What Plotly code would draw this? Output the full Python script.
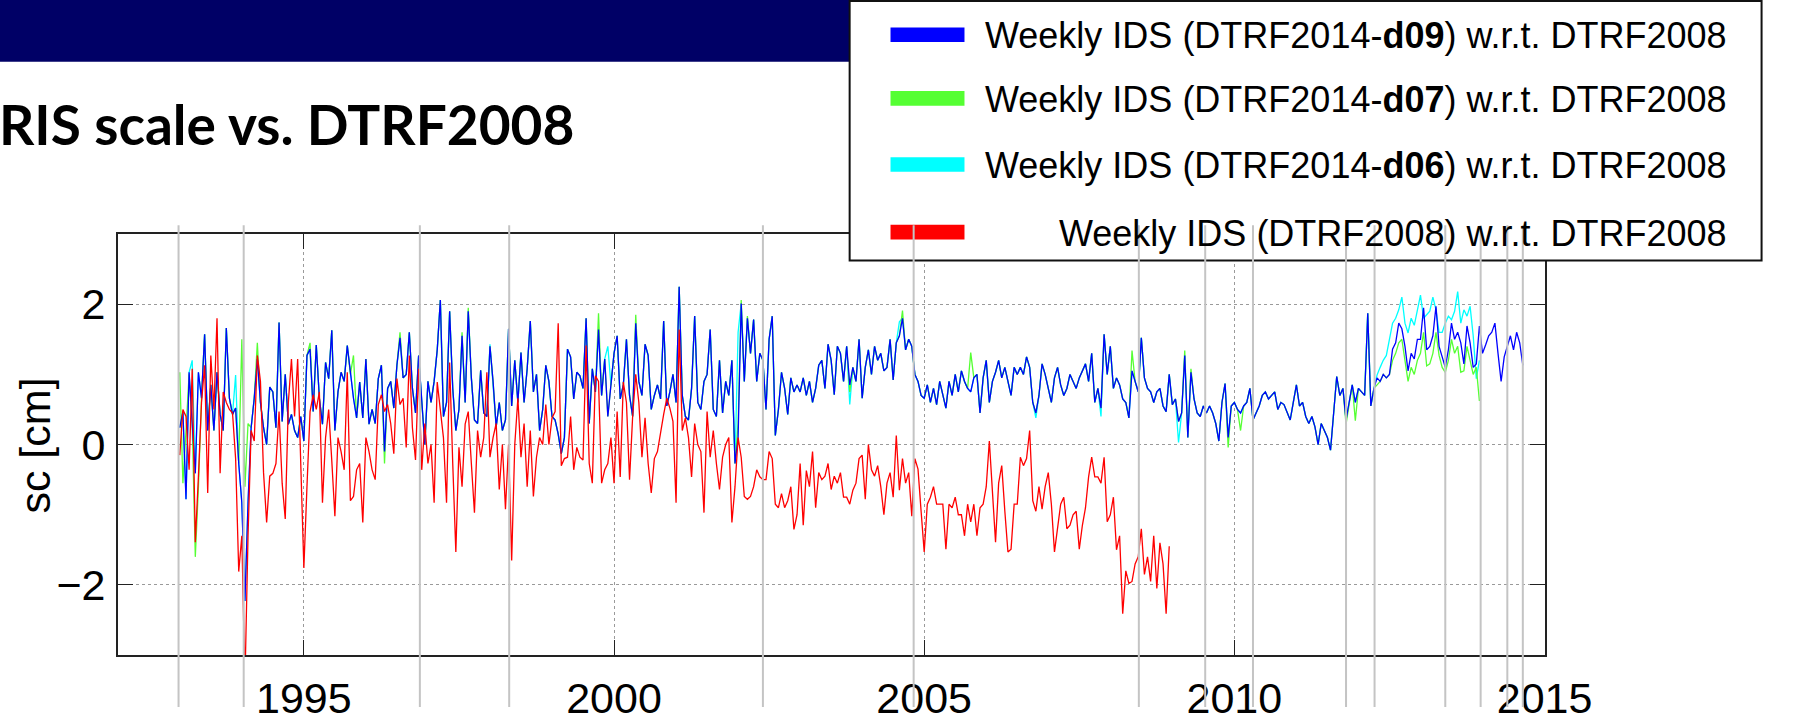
import plotly.graph_objects as go

# ---------------- data ----------------
step_yr = 0.05            # sampling step of the series (years)
blue_start = 1993.0       # Weekly IDS (DTRF2014-d09) w.r.t. DTRF2008
green_start = 1993.0      # Weekly IDS (DTRF2014-d07) w.r.t. DTRF2008
cyan_start = 1993.0       # Weekly IDS (DTRF2014-d06) w.r.t. DTRF2008
red_start = 1993.0        # Weekly IDS (DTRF2008) w.r.t. DTRF2008

blue_sc = [
    0.24, 0.47, -0.78, 1.03, 0.3, -0.41, 1.03, 0.66, 1.57, 0.2, 0.85, 0.2, 1.03, 0.43, 0.2, 1.66, 0.66, 0.43, 0.52, -0.27,
    -0.83, -2.23, -0.83, 0.24, 0.66, 1.22, 0.6, 0.24, 0.0, 0.82, 0.75, 0.24, 1.74, 0.33, 1.0, 0.29, 0.43, 0.2, 0.1, 0.4,
    0.05, 1.27, 1.36, 0.47, 1.42, 0.66, 0.29, 1.17, 0.94, 1.63, 0.2, 0.75, 1.03, 0.9, 1.41, 1.0, 0.66, 0.38, 0.89, 0.38,
    1.22, 0.29, 0.5, 0.3, 0.94, 1.13, -0.1, 0.8, 0.9, 0.52, 1.13, 1.52, 0.95, 1.0, 1.6, 0.8, 0.45, 1.27, 0.6, 0.0,
    0.9, 0.6, 0.9, 1.35, 2.06, 0.4, 0.6, 1.9, 0.8, 0.2, 0.5, 1.55, 0.6, 1.9, 0.95, 0.35, 0.3, 1.06, 0.45, 0.4,
    1.4, 0.9, 0.25, 0.6, 0.2, 0.35, 1.65, 0.55, 1.2, 0.6, 1.31, 0.6, 1.08, 1.76, 0.75, 1.0, 0.2, 0.5, 1.13, 0.9,
    0.4, 0.35, 0.15, -0.13, 0.1, 1.36, 1.25, 0.65, 1.03, 0.98, 0.8, 1.8, 0.3, 1.08, 0.75, 1.64, 0.7, 1.22, 0.4, 0.85,
    1.3, 1.55, 0.65, 0.85, 1.5, 0.7, 0.4, 1.73, 0.9, 0.7, 1.43, 1.27, 0.5, 0.7, 0.85, 0.65, 1.76, 0.55, 0.75, 1.0,
    0.6, 2.25, 0.7, 0.4, 0.35, 0.8, 1.83, 0.6, 0.5, 0.9, 1.0, 1.64, 0.5, 0.4, 1.2, 0.45, 0.9, 0.7, 1.2, -0.27,
    0.1, 2.01, 0.9, 1.8, 1.3, 1.78, 0.9, 1.3, 1.2, 0.5, 1.5, 1.83, 0.13, 0.5, 1.03, 0.8, 0.43, 0.95, 0.75, 0.85,
    0.75, 0.95, 0.7, 0.9, 0.6, 0.8, 1.13, 1.2, 0.8, 1.43, 1.2, 0.71, 1.4, 1.3, 0.9, 1.4, 0.85, 1.1, 0.9, 1.5,
    0.66, 1.1, 1.35, 1.0, 1.4, 1.2, 1.3, 1.05, 1.1, 1.5, 0.92, 1.45, 1.55, 1.8, 1.35, 1.5, 1.4, 1.0, 0.9, 0.7,
    0.66, 0.85, 0.6, 0.8, 0.57, 0.9, 0.7, 0.52, 0.9, 0.7, 1.0, 0.75, 1.05, 0.9, 0.8, 0.75, 0.95, 1.0, 0.45, 0.95,
    1.2, 0.6, 0.9, 1.03, 1.2, 0.95, 1.1, 0.9, 0.7, 1.1, 1.0, 1.1, 1.0, 1.25, 1.1, 0.6, 0.45, 0.7, 1.15, 1.0,
    0.8, 0.6, 0.95, 1.1, 0.85, 0.7, 0.8, 1.0, 0.9, 0.8, 0.95, 1.05, 1.15, 0.9, 1.3, 0.6, 0.8, 0.52, 1.57, 1.0,
    1.4, 0.8, 0.95, 0.85, 0.65, 0.6, 0.38, 1.05, 0.9, 0.75, 1.52, 0.95, 0.8, 0.75, 0.6, 0.75, 0.8, 0.55, 0.47, 1.0,
    0.57, 0.65, 0.33, 0.45, 1.27, 0.1, 1.03, 0.65, 0.45, 0.4, 0.55, 0.45, 0.55, 0.45, 0.3, 0.05, 0.6, 0.87, 0.1, 0.55,
    0.6, 0.5, 0.45, 0.55, 0.6, 0.8, 0.35, 0.45, 0.55, 0.7, 0.75, 0.65, 0.7, 0.75, 0.5, 0.6, 0.57, 0.45, 0.35, 0.6,
    0.85, 0.55, 0.6, 0.4, 0.3, 0.4, 0.25, 0.0, 0.3, 0.2, 0.1, -0.08, 0.4, 0.97, 0.7, 0.8, 0.35, 0.6, 0.85, 0.6,
    0.8, 0.75, 0.7, 1.87, 0.55, 0.8, 0.95, 0.9, 1.0, 0.95, 1.0, 1.36, 1.45, 1.73, 1.65, 1.4, 1.05, 1.3, 1.22, 1.5,
    1.5, 1.95, 1.35, 1.4, 1.55, 1.97, 1.4, 1.25, 1.1, 1.35, 1.73, 1.5, 1.6, 1.45, 1.15, 1.69, 1.45, 1.1, 1.15, 1.69,
    1.3, 1.42, 1.55, 1.6, 1.73, 1.3, 0.9, 1.25, 1.4, 1.55, 1.35, 1.6, 1.45, 1.13,
]

green_sc = [
    1.03, -0.55, 0.2, 1.0, 0.3, -1.6, -0.62, 0.66, 1.57, 0.2, 0.85, 0.2, 1.03, 0.43, 0.2, 1.66, 0.66, 0.43, 0.52, -0.27,
    1.5, -0.6, 0.3, 0.24, 0.66, 1.45, 0.6, 0.24, 0.0, 0.82, 0.75, 0.24, 1.74, 0.33, 1.0, 0.29, 0.43, 0.2, 0.1, 0.4,
    0.05, 1.27, 1.45, 0.47, 1.42, 0.66, 0.29, 1.17, 0.94, 1.63, 0.2, 0.75, 1.03, 0.9, 1.41, 1.0, 1.27, 0.38, 0.89, 0.38,
    1.22, 0.29, 0.5, 0.3, 0.94, 1.13, -0.27, 0.8, 0.9, 0.52, 1.13, 1.6, 0.95, 1.0, 1.6, 0.8, 0.45, 1.27, 0.6, 0.0,
    0.9, 0.6, 0.9, 1.35, 2.06, 0.4, 0.6, 1.9, 0.8, 0.2, 0.5, 1.6, 0.6, 1.95, 0.95, 0.35, 0.3, 1.06, 0.45, 0.4,
    1.4, 0.9, 0.25, 0.6, 0.2, 0.35, 1.65, 0.55, 1.2, 0.6, 1.31, 0.6, 1.08, 1.76, 0.75, 1.0, 0.2, 0.5, 1.13, 0.9,
    0.4, 0.35, 0.15, -0.13, 0.1, 1.36, 1.25, 0.65, 1.03, 0.98, 0.8, 1.8, 0.3, 1.08, 0.75, 1.87, 0.7, 1.22, 0.4, 0.85,
    1.3, 1.55, 0.65, 0.85, 1.5, 0.7, 0.4, 1.85, 0.9, 0.7, 1.43, 1.27, 0.5, 0.7, 0.85, 0.65, 1.76, 0.55, 0.75, 1.0,
    0.6, 2.25, 0.7, 0.4, 0.35, 0.8, 1.83, 0.6, 0.5, 0.9, 1.0, 1.64, 0.5, 0.4, 1.2, 0.45, 0.9, 0.7, 1.2, -0.27,
    0.3, 2.06, 0.9, 1.83, 1.3, 1.78, 0.9, 1.3, 1.2, 0.5, 1.5, 1.83, 0.13, 0.5, 1.03, 0.8, 0.43, 0.95, 0.75, 0.85,
    0.75, 0.95, 0.7, 0.9, 0.6, 0.8, 1.13, 1.2, 0.8, 1.43, 1.2, 0.71, 1.4, 1.3, 0.9, 1.4, 0.75, 1.1, 0.9, 1.5,
    0.66, 1.1, 1.35, 1.0, 1.4, 1.2, 1.3, 1.05, 1.1, 1.5, 0.92, 1.45, 1.55, 1.91, 1.35, 1.5, 1.4, 1.0, 0.9, 0.7,
    0.66, 0.85, 0.6, 0.8, 0.57, 0.9, 0.7, 0.52, 0.9, 0.7, 1.0, 0.75, 1.05, 0.9, 0.8, 1.31, 0.95, 1.0, 0.45, 0.95,
    1.2, 0.6, 0.9, 1.03, 1.2, 0.95, 1.1, 0.9, 0.7, 1.1, 1.0, 1.1, 1.0, 1.25, 1.1, 0.6, 0.45, 0.7, 1.15, 1.0,
    0.8, 0.6, 0.95, 1.1, 0.85, 0.7, 0.8, 1.0, 0.9, 0.8, 0.95, 1.05, 1.15, 0.9, 1.3, 0.6, 0.8, 0.52, 1.57, 1.0,
    1.4, 0.8, 0.95, 0.85, 0.65, 0.6, 0.38, 1.34, 0.9, 0.75, 1.52, 0.95, 0.8, 0.75, 0.6, 0.75, 0.8, 0.55, 0.47, 1.0,
    0.57, 0.65, 0.33, 0.45, 1.34, 0.1, 1.08, 0.65, 0.45, 0.4, 0.55, 0.45, 0.55, 0.45, 0.3, 0.05, 0.6, 0.87, -0.04, 0.55,
    0.6, 0.5, 0.2, 0.55, 0.6, 0.8, 0.35, 0.45, 0.55, 0.7, 0.75, 0.65, 0.7, 0.75, 0.5, 0.6, 0.57, 0.45, 0.35, 0.6,
    0.85, 0.55, 0.6, 0.4, 0.3, 0.4, 0.25, 0.0, 0.3, 0.2, 0.1, -0.08, 0.4, 0.97, 0.7, 0.8, 0.29, 0.6, 0.85, 0.34,
    0.8, 0.75, 0.7, 1.87, 0.55, 0.8, 0.85, 0.9, 1.0, 0.95, 1.0, 1.2, 1.3, 1.45, 1.5, 1.2, 0.9, 1.1, 1.0, 1.2,
    1.3, 1.6, 1.12, 1.15, 1.3, 1.6, 1.27, 1.1, 1.03, 1.2, 1.5, 1.3, 1.4, 1.03, 1.05, 1.4, 1.2, 1.0, 1.1, 0.62,
]

cyan_sc = [
    0.24, 0.47, -0.78, 1.03, 1.2, -0.41, 1.03, 0.66, 1.57, 0.2, 0.85, 0.2, 1.03, 0.43, 0.2, 1.66, 0.66, 0.43, 0.99, -0.27,
    -0.83, -2.23, -0.83, 0.24, 0.66, 1.22, 0.6, 0.24, 0.0, 0.82, 0.75, 0.24, 1.74, 0.33, 1.0, 0.29, 0.43, 0.2, 0.1, 0.4,
    0.05, 1.27, 1.36, 0.47, 1.42, 0.66, 0.29, 1.17, 0.94, 1.63, 0.2, 0.75, 1.03, 0.9, 1.41, 1.0, 0.66, 0.38, 0.89, 0.38,
    1.22, 0.29, 0.5, 0.3, 0.94, 1.13, -0.1, 0.8, 0.9, 0.52, 1.13, 1.52, 0.95, 1.0, 1.6, 0.8, 0.45, 1.27, 0.6, 0.0,
    0.9, 0.6, 0.9, 1.35, 2.06, 0.4, 0.6, 1.9, 0.8, 0.2, 0.5, 1.55, 0.6, 1.9, 0.95, 0.35, 0.3, 1.06, 0.45, 0.4,
    1.43, 0.9, 0.25, 0.6, 0.2, 0.35, 1.65, 0.55, 1.2, 0.6, 1.31, 0.6, 1.08, 1.76, 0.75, 1.0, 0.2, 0.5, 1.13, 0.9,
    0.4, 0.35, 0.15, -0.13, 0.1, 1.36, 1.24, 0.65, 1.03, 0.98, 0.8, 1.8, 0.3, 1.08, 0.75, 1.64, 0.7, 1.22, 1.4, 0.85,
    1.3, 1.55, 0.65, 0.85, 1.5, 0.7, 0.4, 1.73, 0.9, 0.7, 1.43, 1.27, 0.5, 0.7, 0.85, 0.65, 1.76, 0.55, 0.75, 1.0,
    0.6, 2.25, 0.7, 0.4, 0.35, 0.8, 1.83, 0.6, 0.5, 0.9, 1.0, 1.64, 0.5, 0.4, 1.2, 0.45, 0.9, 0.7, 1.2, -0.27,
    1.6, 2.01, 0.9, 1.8, 1.3, 1.78, 0.9, 1.3, 1.2, 0.5, 1.5, 1.83, 0.13, 0.5, 1.03, 0.8, 0.43, 0.95, 0.75, 0.85,
    0.75, 0.95, 0.7, 0.9, 0.6, 0.8, 1.13, 1.2, 0.8, 1.43, 1.2, 0.71, 1.4, 1.3, 0.9, 1.4, 0.57, 1.1, 0.9, 1.5,
    0.66, 1.1, 1.35, 1.0, 1.4, 1.2, 1.3, 1.05, 1.1, 1.5, 0.92, 1.45, 1.75, 1.8, 1.35, 1.5, 1.4, 1.0, 0.9, 0.7,
    0.66, 0.85, 0.6, 0.8, 0.57, 0.9, 0.7, 0.52, 0.9, 0.7, 1.0, 0.75, 1.05, 0.9, 0.8, 0.75, 0.95, 1.0, 0.45, 0.95,
    1.2, 0.6, 0.9, 1.03, 1.2, 0.95, 1.1, 0.9, 0.7, 1.1, 1.0, 1.1, 1.0, 1.25, 1.1, 0.6, 0.38, 0.7, 1.15, 1.0,
    0.8, 0.6, 0.95, 1.1, 0.85, 0.7, 0.8, 1.0, 0.9, 0.8, 0.95, 1.05, 1.15, 0.9, 1.3, 0.6, 0.8, 0.4, 1.57, 1.0,
    1.4, 0.8, 0.95, 0.85, 0.65, 0.6, 0.38, 1.05, 0.9, 0.75, 1.52, 0.95, 0.8, 0.75, 0.6, 0.75, 0.8, 0.55, 0.47, 1.0,
    0.57, 0.65, 0.03, 0.45, 1.27, 0.1, 1.03, 0.65, 0.45, 0.4, 0.55, 0.45, 0.55, 0.45, 0.3, 0.05, 0.6, 0.87, 0.1, 0.55,
    0.6, 0.5, 0.45, 0.55, 0.6, 0.8, 0.35, 0.45, 0.55, 0.7, 0.75, 0.65, 0.7, 0.75, 0.5, 0.6, 0.57, 0.45, 0.35, 0.6,
    0.85, 0.55, 0.6, 0.4, 0.3, 0.4, 0.25, 0.0, 0.3, 0.2, 0.1, -0.08, 0.4, 0.97, 0.7, 0.8, 0.35, 0.6, 0.85, 0.6,
    0.8, 0.75, 0.7, 1.87, 0.55, 0.8, 0.99, 1.1, 1.2, 1.27, 1.5, 1.73, 1.8, 1.92, 2.1, 1.73, 1.59, 1.8, 1.7, 1.92,
    2.13, 1.8, 1.85, 1.9, 2.1, 1.92, 1.6, 1.6, 1.73, 1.83, 1.78, 1.9, 2.18, 1.73, 1.92, 1.83, 1.97, 1.55, 0.94, 1.2,
]

red_sc = [
    -0.15, 0.5, 0.4, -0.36, 1.08, -1.39, -0.46, 0.6, 1.13, -0.69, 1.27, 0.5, 1.8, -0.41, 0.75, 0.6, 0.5, 0.45, -0.2, -1.81,
    -1.3, -3.4, -1.3, 0.2, 0.05, 1.27, 0.9, -0.4, -1.11, -0.45, -0.41, -0.27, 0.47, -0.55, -1.06, 0.6, 1.22, 0.4, 1.22, -0.27,
    -1.76, -0.6, 0.47, 0.71, 0.5, 0.75, -0.83, 0.1, 0.5, -0.23, -1.02, 0.1, -0.1, -0.36, 1.03, -0.8, -0.74, -0.36, -0.27, -1.11,
    0.1, -0.1, -0.36, -0.5, 0.57, 0.71, 0.47, 0.57, 0.3, -0.13, 0.94, 0.57, 0.66, -0.04, 1.27, 0.24, -0.22, 1.08, -0.36, 0.3,
    -0.27, 0.0, -0.83, 0.89, 0.5, 0.1, -0.83, 1.17, -0.27, -1.53, -0.04, -0.6, 0.29, 0.47, -0.27, -0.97, 0.2, -0.18, 0.1, 1.03,
    -0.18, 0.1, 0.3, -0.64, 0.0, -0.92, 0.0, -1.65, 0.0, 0.66, -0.18, 0.3, -0.6, 0.2, -0.74, -0.18, 0.1, 0.0, 0.57, 0.0,
    0.38, 0.47, 1.73, -0.3, -0.2, -0.18, 0.4, -0.36, -0.04, -0.18, -0.22, 1.41, -0.27, -0.55, 0.98, 0.9, -0.55, -0.36, -0.27, 0.1,
    -0.55, 0.47, -0.46, 0.89, 0.6, -0.5, 0.4, 1.0, 0.6, -0.18, 0.38, -0.27, -0.69, -0.2, -0.1, 0.2, 0.43, 0.66, 0.52, 0.33,
    -0.83, 1.64, 0.2, 0.38, 0.1, -0.46, 0.3, 0.0, -0.1, -0.97, 0.47, -0.18, 0.2, -0.27, -0.64, -0.18, 0.0, 0.1, -1.11, -0.6,
    0.1, -0.18, -0.74, -0.78, -0.74, -0.6, -0.36, -0.46, -0.5, -0.5, -0.1, -0.2, -0.85, -0.9, -0.7, -0.9, -0.8, -0.6, -1.21, -1.0,
    -0.27, -1.15, -0.37, -0.6, -0.1, -0.9, -0.4, -0.5, -0.45, -0.27, -0.64, -0.45, -0.55, -0.4, -0.75, -0.75, -0.85, -0.65, -0.55, -0.2,
    -0.15, -0.78, 0.0, -0.36, -0.45, -0.3, -0.6, -1.0, -0.55, -0.4, -0.75, 0.13, -0.65, -0.2, -0.55, -0.4, -1.02, -0.2, -0.35, -0.95,
    -1.53, -0.85, -0.75, -0.6, -0.85, -0.85, -0.85, -1.49, -0.85, -0.9, -0.75, -1.0, -1.0, -1.3, -0.85, -1.1, -0.85, -1.3, -0.9, -0.85,
    -0.6, 0.05, -0.75, -1.39, -0.55, -0.3, -0.95, -1.53, -1.49, -0.85, -0.85, -0.18, -0.3, -0.2, 0.2, -0.8, -0.95, -0.6, -0.92, -0.6,
    -0.4, -0.85, -1.53, -1.15, -0.85, -0.75, -1.2, -1.15, -1.0, -0.95, -1.49, -1.15, -0.9, -0.46, -0.18, -0.46, -0.46, -0.55, -0.18, -1.1,
    -1.0, -0.75, -1.5, -1.3, -2.41, -1.8, -1.98, -1.95, -1.7, -1.6, -1.2, -1.85, -1.6, -1.95, -1.3, -2.05, -1.4, -1.7, -2.41, -1.45,
]

# epochs of the grey vertical marker lines (years)
event_years = [1992.98, 1994.03, 1996.87, 1998.31, 2002.40, 2004.83, 2008.46, 2009.53,
               2010.30, 2011.80, 2012.26, 2013.40, 2013.97, 2014.40, 2014.65]

x_ticks = [1995, 2000, 2005, 2010, 2015]
y_ticks = [-2, 0, 2]

legend_labels = [
    "Weekly IDS (DTRF2014-<b>d09</b>) w.r.t. DTRF2008",
    "Weekly IDS (DTRF2014-<b>d07</b>) w.r.t. DTRF2008",
    "Weekly IDS (DTRF2014-<b>d06</b>) w.r.t. DTRF2008",
    "Weekly IDS (DTRF2008) w.r.t. DTRF2008",
]
BLUE, GREEN, CYAN, RED = "#0000ff", "#55ff33", "#00ffff", "#ff0000"
legend_colors = [BLUE, GREEN, CYAN, RED]

# ---------------- figure ----------------
W, H = 1794, 722


def fx(px):
    return px / W


def fy(py):
    return 1 - py / H


def epochs(start, n):
    return [round(start + step_yr * i, 3) for i in range(n)]


fig = go.Figure()
for ys, start, col, name in [
    (cyan_sc, cyan_start, CYAN, "d06"),
    (green_sc, green_start, GREEN, "d07"),
    (blue_sc, blue_start, BLUE, "d09"),
    (red_sc, red_start, RED, "DTRF2008"),
]:
    fig.add_trace(go.Scatter(x=epochs(start, len(ys)), y=ys, mode="lines", name=name,
                             line=dict(color=col, width=1.3), showlegend=False,
                             hoverinfo="skip"))

FONT = "Liberation Sans, Arial, Helvetica, sans-serif"
axis_common = dict(
    showline=True, linecolor="#222222", linewidth=1.5, mirror="ticks",
    ticks="inside", ticklen=15, tickwidth=1.3, tickcolor="#222222",
    showgrid=True, gridcolor="#9a9a9a", gridwidth=1, griddash="dot",
    zeroline=False, tickfont=dict(family=FONT, size=43, color="black"),
)

fig.update_layout(
    width=W, height=H, autosize=False,
    margin=dict(l=0, r=0, t=0, b=0, pad=0),
    paper_bgcolor="white", plot_bgcolor="white",
    xaxis=dict(domain=[fx(121), fx(1587)], range=[1992, 2015], tickvals=x_ticks,
               ticktext=[str(v) for v in x_ticks], ticklabelstandoff=5, **axis_common),
    yaxis=dict(domain=[fy(669), fy(239)], range=[-3, 3], tickvals=y_ticks,
               ticklabelstandoff=2, **axis_common),
    showlegend=False,
)

shapes = []
# slide banner
shapes.append(dict(type="rect", xref="paper", yref="paper", x0=0, x1=1, y0=fy(63), y1=1,
                   fillcolor="#000066", line=dict(width=0), layer="above"))
# legend box
shapes.append(dict(type="rect", xref="paper", yref="paper", x0=fx(873), x1=fx(1810),
                   y0=fy(266), y1=fy(1), fillcolor="white",
                   line=dict(color="#111111", width=2), layer="above"))
legend_centers = [35.5, 100.5, 168, 237]
for yc, col in zip(legend_centers, legend_colors):
    shapes.append(dict(type="rect", xref="paper", yref="paper", x0=fx(915), x1=fx(991),
                       y0=fy(yc + 7.5), y1=fy(yc - 7.5), fillcolor=col,
                       line=dict(width=0), layer="above"))
# grey marker lines
for ev in event_years:
    shapes.append(dict(type="line", xref="x", yref="paper", x0=ev, x1=ev,
                       y0=0, y1=fy(230), line=dict(color="#c4c4c4", width=2),
                       layer="above"))
fig.update_layout(shapes=shapes)

annotations = [
    dict(text="<b>RIS scale vs. DTRF2008</b>", xref="paper", yref="paper",
         x=fx(-3), y=fy(127), xanchor="left", yanchor="middle", showarrow=False,
         font=dict(family="Lato, Open Sans, sans-serif", size=55, color="black")),
    # y-axis title
    dict(text="sc [cm]", xref="paper", yref="paper", x=fx(36), y=fy(455),
         xanchor="center", yanchor="middle", textangle=-90, showarrow=False,
         font=dict(family=FONT, size=43, color="black")),
]
for yc, lab in zip(legend_centers, legend_labels):
    annotations.append(dict(text=lab, xref="paper", yref="paper", x=fx(1777), y=fy(yc + 1),
                            xanchor="right", yanchor="middle", showarrow=False,
                            font=dict(family=FONT, size=36, color="black")))
fig.update_layout(annotations=annotations)

fig.write_html(
    "out.html",
    config={"displayModeBar": False},
    post_script=("document.documentElement.style.margin='0';"
                 "document.body.style.margin='0';document.body.style.padding='0';"
                 "document.documentElement.style.overflow='hidden';"
                 "document.body.style.overflow='hidden';"),
)
